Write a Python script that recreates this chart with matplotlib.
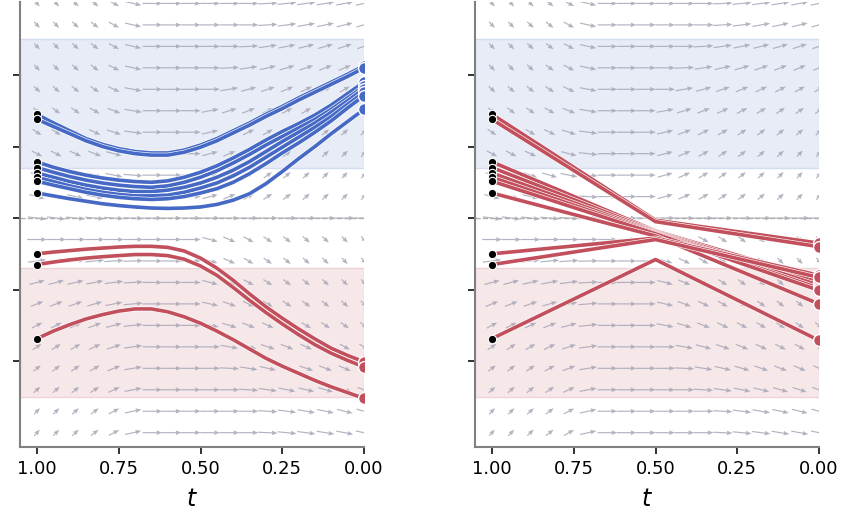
import numpy as np
import matplotlib
matplotlib.use("Agg")
import matplotlib.pyplot as plt
import matplotlib.patheffects as pe

# ---------------- data ----------------
t_grid = [1.00, 0.95, 0.90, 0.85, 0.80, 0.75, 0.70, 0.65, 0.60, 0.55, 0.50,
          0.45, 0.40, 0.35, 0.30, 0.25, 0.20, 0.15, 0.10, 0.05, 0.00]

# left panel: smooth ODE trajectories
U1 = [1.45, 1.33, 1.22, 1.11, 1.03, 0.97, 0.93, 0.91, 0.91, 0.95, 1.02,
      1.11, 1.22, 1.33, 1.45, 1.56, 1.68, 1.79, 1.90, 2.01, 2.13]
U2 = [1.38, 1.28, 1.18, 1.08, 1.00, 0.94, 0.90, 0.88, 0.88, 0.92, 0.99,
      1.08, 1.19, 1.30, 1.42, 1.53, 1.65, 1.76, 1.87, 1.98, 2.10]
L1 = [0.785, 0.71, 0.65, 0.60, 0.56, 0.53, 0.51, 0.50, 0.52, 0.57, 0.64,
      0.73, 0.84, 0.96, 1.09, 1.21, 1.32, 1.44, 1.58, 1.74, 1.90]
L2 = [0.706, 0.64, 0.58, 0.53, 0.49, 0.46, 0.44, 0.43, 0.45, 0.50, 0.57,
      0.66, 0.77, 0.89, 1.02, 1.14, 1.26, 1.38, 1.52, 1.68, 1.84]
L3 = [0.63, 0.57, 0.51, 0.46, 0.42, 0.39, 0.37, 0.37, 0.39, 0.43, 0.49,
      0.57, 0.67, 0.79, 0.93, 1.07, 1.20, 1.33, 1.48, 1.64, 1.81]
L4 = [0.57, 0.51, 0.45, 0.40, 0.36, 0.33, 0.31, 0.31, 0.32, 0.36, 0.42,
      0.49, 0.59, 0.71, 0.85, 0.99, 1.13, 1.27, 1.42, 1.59, 1.76]
L5 = [0.515, 0.46, 0.41, 0.36, 0.32, 0.29, 0.27, 0.26, 0.27, 0.30, 0.35,
      0.41, 0.50, 0.62, 0.76, 0.91, 1.05, 1.20, 1.36, 1.54, 1.71]
B7 = [0.35, 0.31, 0.27, 0.235, 0.20, 0.175, 0.155, 0.14, 0.135, 0.14, 0.155,
      0.19, 0.25, 0.34, 0.48, 0.65, 0.83, 1.00, 1.18, 1.35, 1.52]
R1 = [-0.50, -0.475, -0.455, -0.435, -0.42, -0.405, -0.395, -0.395, -0.41, -0.46, -0.56,
      -0.70, -0.87, -1.06, -1.24, -1.40, -1.55, -1.69, -1.82, -1.92, -2.01]
R2 = [-0.65, -0.615, -0.585, -0.56, -0.54, -0.525, -0.51, -0.51, -0.525, -0.575, -0.67,
      -0.80, -0.97, -1.15, -1.32, -1.48, -1.63, -1.77, -1.89, -1.99, -2.08]
R3 = [-1.685, -1.58, -1.49, -1.41, -1.35, -1.30, -1.27, -1.27, -1.31, -1.38, -1.47,
      -1.58, -1.70, -1.83, -1.96, -2.07, -2.17, -2.27, -2.36, -2.44, -2.52]
blue_trajs = [U1, U2, L1, L2, L3, L4, L5, B7]
red_trajs = [R1, R2, R3]

# right panel: two-step trajectories (t = 1, 0.5, 0)
t_coarse = [1.0, 0.5, 0.0]
right_start = [1.45, 1.38, 0.785, 0.706, 0.63, 0.57, 0.515, 0.35, -0.50, -0.65, -1.685]
right_mid = [-0.03, -0.05, -0.18, -0.19, -0.20, -0.21, -0.22, -0.25, -0.28, -0.30, -0.58]
right_end = [-0.35, -0.40, -0.86, -0.90, -0.94, -0.98, -1.01, -1.20, -0.80, -0.83, -1.71]

x_ticks = [1.00, 0.75, 0.50, 0.25, 0.00]
x_ticklabels = ["1.00", "0.75", "0.50", "0.25", "0.00"]
y_ticks = [-2, -1, 0, 1, 2]
blue_band = (0.7, 2.5)
red_band = (-2.5, -0.7)

BLUE = "#4569c4"
RED = "#c24f5c"

# background velocity field (model of the learned flow)
def field_slope(s, y):
    f0 = np.clip(-(2.0 * y + 0.6), -5, 5)
    r = np.abs(y)
    f1 = np.sign(y) * 5.5 * np.tanh(r / 0.2) / (1 + (r / 1.8) ** 3)
    a = np.clip(1 - (s / 0.33) ** 2, 0, 1)
    s2 = 0.48 + 0.2 * np.clip((r - 1.5) / 1.2, 0, 1)
    b = np.clip((s - s2) / (1 - s2), 0, 1) ** 0.6
    return f0 * a + f1 * b

qt = np.linspace(1, 0, 18)
qy = np.linspace(-3, 3, 21)
QT, QY = np.meshgrid(qt, qy)
F = field_slope(1 - QT, QY)
Lq = 0.06
nrm = np.sqrt(1 + (F / 1.5) ** 2)
QU = -Lq / nrm
QV = Lq * F / nrm

fig = plt.figure(figsize=(8.64, 5.28), dpi=100)
ax1 = fig.add_axes([20 / 864, 81 / 528, 344 / 864, 445 / 528])
ax2 = fig.add_axes([475 / 864, 81 / 528, 344 / 864, 445 / 528])

stroke = [pe.Stroke(linewidth=3.5, foreground="white"), pe.Normal()]

for ax in (ax1, ax2):
    ax.axhspan(*blue_band, facecolor="#e8ecf7", edgecolor="#d3dcf0", lw=1, zorder=0)
    ax.axhspan(*red_band, facecolor="#f6e7e9", edgecolor="#efd3d7", lw=1, zorder=0)
    ax.quiver(QT, QY, QU, QV, angles="xy", scale_units="xy", scale=1,
              pivot="mid", color="#a6a6b6", alpha=0.85, width=0.0034,
              headwidth=4.0, headlength=5.0, headaxislength=4.5, zorder=1)
    ax.axhline(0, color="#b0b0b0", ls="--", lw=1.0, zorder=1.5)
    ax.set_xlim(1.052, 0.0)
    ax.set_ylim(-3.2, 3.02)
    ax.set_xticks(x_ticks)
    ax.set_xticklabels(x_ticklabels, fontsize=13)
    ax.set_yticks(y_ticks)
    ax.set_yticklabels([])
    ax.set_xlabel("$t$", fontsize=17, labelpad=7)
    for sp in ("top", "right"):
        ax.spines[sp].set_visible(False)
    for sp in ("left", "bottom"):
        ax.spines[sp].set_color("#808080")
        ax.spines[sp].set_linewidth(1.5)
    ax.tick_params(axis="both", length=5, width=1.3, color="#222222", direction="out")
    ax.tick_params(axis="x", pad=4)

# left panel
for y in blue_trajs:
    ax1.plot(t_grid, y, color=BLUE, lw=2.6, zorder=3, path_effects=stroke)
for y in red_trajs:
    ax1.plot(t_grid, y, color=RED, lw=2.6, zorder=3, path_effects=stroke)
for y in blue_trajs:
    ax1.plot([t_grid[-1]], [y[-1]], "o", color=BLUE, ms=8.5, mec="white", mew=1.0, zorder=4)
for y in red_trajs:
    ax1.plot([t_grid[-1]], [y[-1]], "o", color=RED, ms=8.5, mec="white", mew=1.0, zorder=4)
for y in blue_trajs + red_trajs:
    ax1.plot([t_grid[0]], [y[0]], "o", color="black", ms=6, mec="white", mew=0.8, zorder=5)

# right panel
for a, m, e in zip(right_start, right_mid, right_end):
    ax2.plot(t_coarse, [a, m, e], color=RED, lw=2.6, zorder=3, path_effects=stroke)
for e in right_end:
    ax2.plot([t_coarse[-1]], [e], "o", color=RED, ms=8.5, mec="white", mew=1.0, zorder=4)
for a in right_start:
    ax2.plot([t_coarse[0]], [a], "o", color="black", ms=6, mec="white", mew=0.8, zorder=5)

fig.savefig("out.png", dpi=100)
